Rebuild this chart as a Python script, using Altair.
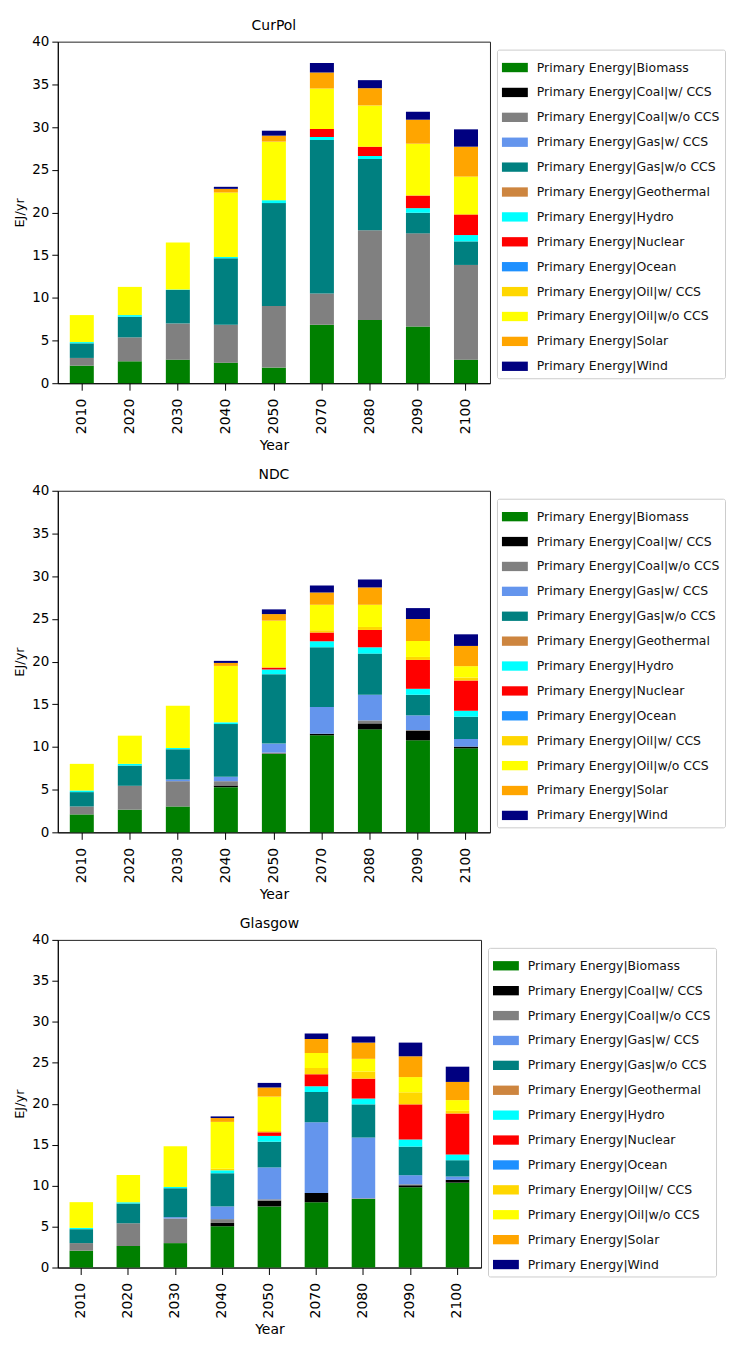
import altair as alt
import pandas as pd

years = ["2010", "2020", "2030", "2040", "2050", "2070", "2080", "2090", "2100"]
sources = [
    "Primary Energy|Biomass", "Primary Energy|Coal|w/ CCS", "Primary Energy|Coal|w/o CCS",
    "Primary Energy|Gas|w/ CCS", "Primary Energy|Gas|w/o CCS", "Primary Energy|Geothermal",
    "Primary Energy|Hydro", "Primary Energy|Nuclear", "Primary Energy|Ocean",
    "Primary Energy|Oil|w/ CCS", "Primary Energy|Oil|w/o CCS", "Primary Energy|Solar",
    "Primary Energy|Wind",
]
colors = ["#008000", "#000000", "#808080", "#6495ED", "#008080", "#CD853F", "#00FFFF",
          "#FF0000", "#1E90FF", "#FFD700", "#FFFF00", "#FFA500", "#000080"]
zeros = [0, 0, 0, 0, 0, 0, 0, 0, 0]

# CurPol
curpol_biomass = [2.06, 2.57, 2.76, 2.41, 1.83, 6.85, 7.39, 6.65, 2.76]
curpol_coal_w = zeros
curpol_coal_wo = [0.90, 2.80, 4.24, 4.44, 7.20, 3.65, 10.51, 10.90, 11.09]
curpol_gas_w = zeros
curpol_gas_wo = [1.71, 2.41, 3.93, 7.78, 12.06, 17.98, 8.36, 2.41, 2.76]
curpol_geo = zeros
curpol_hydro = [0.15, 0.20, 0.05, 0.16, 0.35, 0.35, 0.35, 0.54, 0.74]
curpol_nuclear = [0, 0, 0, 0, 0, 0.94, 1.09, 1.48, 2.42]
curpol_ocean = zeros
curpol_oil_w = zeros
curpol_oil_wo = [3.16, 3.30, 5.50, 7.54, 6.85, 4.74, 4.83, 6.07, 4.43]
curpol_solar = [0, 0, 0, 0.43, 0.70, 1.87, 2.02, 2.81, 3.50]
curpol_wind = [0, 0, 0, 0.24, 0.58, 1.13, 0.94, 0.93, 2.03]

# NDC
ndc_biomass = [2.10, 2.65, 3.03, 5.29, 9.18, 11.36, 12.06, 10.78, 9.84]
ndc_coal_w = [0, 0, 0, 0.20, 0, 0.20, 0.70, 1.09, 0.20]
ndc_coal_wo = [0.93, 2.80, 2.96, 0.50, 0.16, 0, 0.35, 0.11, 0]
ndc_gas_w = [0, 0, 0.20, 0.51, 1.05, 3.11, 3.00, 1.72, 0.89]
ndc_gas_wo = [1.68, 2.37, 3.54, 6.18, 8.13, 7.00, 4.82, 2.41, 2.61]
ndc_geo = zeros
ndc_hydro = [0.19, 0.20, 0.15, 0.20, 0.55, 0.70, 0.74, 0.70, 0.70]
ndc_nuclear = [0, 0, 0, 0, 0.23, 1.02, 2.03, 3.38, 3.54]
ndc_ocean = zeros
ndc_oil_w = [0, 0, 0, 0, 0, 0.27, 0.35, 0.35, 0.35]
ndc_oil_wo = [3.12, 3.30, 4.94, 6.61, 5.49, 2.99, 2.60, 1.87, 1.33]
ndc_solar = [0, 0, 0, 0.35, 0.77, 1.44, 2.03, 2.57, 2.37]
ndc_wind = [0, 0, 0, 0.24, 0.55, 0.82, 0.93, 1.28, 1.36]

# Glasgow
gla_biomass = [2.06, 2.62, 2.98, 5.04, 7.46, 7.98, 8.37, 9.80, 10.36]
gla_coal_w = [0, 0, 0, 0.40, 0.71, 1.11, 0, 0.24, 0.35]
gla_coal_wo = [0.92, 2.78, 3.01, 0.47, 0.16, 0, 0.08, 0.12, 0]
gla_gas_w = [0, 0, 0.16, 1.55, 3.89, 8.65, 7.42, 1.11, 0.40]
gla_gas_wo = [1.70, 2.42, 3.53, 4.05, 3.14, 3.69, 4.05, 3.49, 1.99]
gla_geo = zeros
gla_hydro = [0.16, 0.16, 0.16, 0.36, 0.71, 0.71, 0.71, 0.87, 0.71]
gla_nuclear = [0, 0, 0, 0, 0.44, 1.47, 2.43, 4.29, 5.00]
gla_ocean = zeros
gla_oil_w = [0, 0, 0, 0.19, 0.16, 0.76, 0.87, 1.47, 0.32]
gla_oil_wo = [3.14, 3.33, 4.96, 5.72, 4.20, 1.82, 1.55, 1.86, 1.31]
gla_solar = [0, 0, 0, 0.47, 1.11, 1.71, 1.98, 2.54, 2.22]
gla_wind = [0, 0, 0, 0.20, 0.56, 0.67, 0.75, 1.67, 1.86]

scenarios = {
    "CurPol": [curpol_biomass, curpol_coal_w, curpol_coal_wo, curpol_gas_w, curpol_gas_wo,
               curpol_geo, curpol_hydro, curpol_nuclear, curpol_ocean, curpol_oil_w,
               curpol_oil_wo, curpol_solar, curpol_wind],
    "NDC": [ndc_biomass, ndc_coal_w, ndc_coal_wo, ndc_gas_w, ndc_gas_wo, ndc_geo, ndc_hydro,
            ndc_nuclear, ndc_ocean, ndc_oil_w, ndc_oil_wo, ndc_solar, ndc_wind],
    "Glasgow": [gla_biomass, gla_coal_w, gla_coal_wo, gla_gas_w, gla_gas_wo, gla_geo,
                gla_hydro, gla_nuclear, gla_ocean, gla_oil_w, gla_oil_wo, gla_solar, gla_wind],
}

FONT = "DejaVu Sans"
rect_symbol = "M-1,-0.36L1,-0.36L1,0.36L-1,0.36Z"


def panel(name, series, w, h):
    rows = []
    for i, (src, vals) in enumerate(zip(sources, series)):
        for yr, v in zip(years, vals):
            rows.append({"Year": yr, "source": src, "value": v, "idx": i})
    df = pd.DataFrame(rows)
    return (
        alt.Chart(df, title=alt.Title(name, fontSize=14, fontWeight="normal", font=FONT,
                                      offset=2, color="#000000"))
        .mark_bar(size=w / 9 * 0.5)
        .encode(
            x=alt.X("Year:O", sort=years,
                    scale=alt.Scale(paddingInner=0.5, paddingOuter=0.25),
                    axis=alt.Axis(labelAngle=-90, title="Year", labelFontSize=14,
                                  tickSize=7, labelPadding=8, titlePadding=5,
                                  titleFontSize=14)),
            y=alt.Y("value:Q", stack="zero",
                    scale=alt.Scale(domain=[0, 40], nice=False),
                    axis=alt.Axis(values=[0, 5, 10, 15, 20, 25, 30, 35, 40], title="EJ/yr",
                                  grid=False, tickSize=6, labelPadding=3, titlePadding=5)),
            color=alt.Color("source:N", title=None,
                            scale=alt.Scale(domain=sources, range=colors),
                            legend=alt.Legend(orient="none", legendX=w + 7, legendY=8,
                                              symbolType=rect_symbol, symbolSize=676,
                                              symbolStrokeWidth=0, symbolOpacity=1,
                                              labelFontSize=12.5, labelFont=FONT,
                                              labelColor="#111111", labelLimit=400,
                                              rowPadding=5, strokeColor="#cccccc",
                                              padding=5, cornerRadius=2,
                                              fillColor="#ffffff", labelOffset=9)),
            order=alt.Order("idx:Q", sort="ascending"),
        )
        .properties(width=w, height=h)
    )


chart = (
    alt.vconcat(
        panel("CurPol", scenarios["CurPol"], 434, 343),
        panel("NDC", scenarios["NDC"], 434, 343),
        panel("Glasgow", scenarios["Glasgow"], 425, 329),
        spacing=13,
    )
    .resolve_scale(color="independent")
    .resolve_legend(color="independent")
    .properties(padding={"left": 5, "top": 7, "right": 0, "bottom": 0})
    .configure_axis(labelFont=FONT, titleFont=FONT, labelFontSize=13.5, titleFontSize=13,
                    labelColor="#000000", titleColor="#000000", titleFontWeight="normal",
                    domainColor="#000000", tickColor="#000000")
    .configure_view(stroke="#222222", strokeWidth=1)
)

chart.save("out.html", embed_options={"renderer": "svg", "actions": False})
